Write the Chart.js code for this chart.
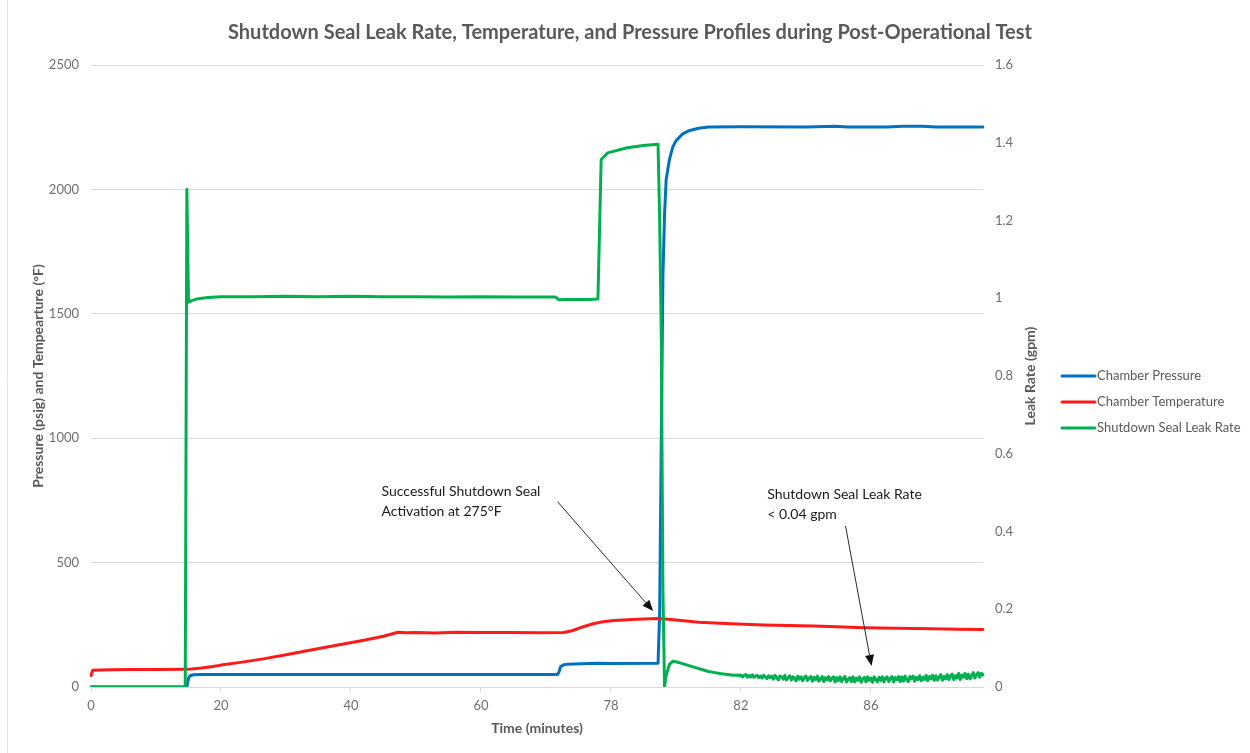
<!DOCTYPE html>
<html>
<head>
<meta charset="utf-8">
<script src="https://cdn.jsdelivr.net/npm/chart.js@4.4.1/dist/chart.umd.min.js"></script>
<style>
  html, body { margin: 0; padding: 0; background: #ffffff; }
  #wrap { width: 1250px; height: 753px; position: relative; }
</style>
</head>
<body>
<div id="wrap"><canvas id="chart" width="1250" height="753"></canvas></div>
<script>
// Logger clock: recorded time (minutes) at each labelled category, samples between labels
const tickTimes = [0, 20, 40, 60, 78, 82, 86];
const samplesPerTick = 80;
const endTime = 89.45;

// Series as [time (min), value] pairs
const chamberPressure = [ // psig
  [0, 0], [14.75, 0], [15, 35], [15.25, 45], [15.75, 49], [17, 50], [30, 50], [45, 50],
  [60, 50], [70.6, 50], [70.9, 60], [71.1, 82], [71.4, 89], [72, 91], [74, 93], [76.2, 95],
  [78, 94], [79.45, 95], [79.5, 300], [79.55, 1000], [79.6, 1650], [79.65, 1900], [79.7, 2040],
  [79.8, 2120], [79.9, 2170], [80.0, 2195], [80.2, 2222], [80.4, 2236], [80.7, 2246],
  [81.0, 2251], [82, 2252], [84, 2251], [84.9, 2254], [85.3, 2251], [86.5, 2251],
  [87, 2254], [87.6, 2254], [88, 2251], [89.45, 2251]
];

const chamberTemperature = [ // °F
  [0, 46], [0.25, 67], [3, 69], [6.5, 70], [10, 70], [14, 71], [15.5, 72], [17, 76],
  [18.5, 81], [20, 88], [23, 99], [26.5, 113], [30, 130], [34.2, 151], [38, 169], [42, 188],
  [45, 204], [47.2, 220], [48.5, 218], [50, 219], [53, 217], [56, 220], [60, 219], [64, 219],
  [68, 218], [71.5, 219], [72.7, 226], [73.8, 238], [75.6, 254], [76.2, 258], [77.2, 263],
  [78.1, 267], [78.8, 272], [79.45, 275], [79.85, 271], [80.7, 260], [81.7, 254],
  [82.7, 249], [84.26, 245], [85.8, 238], [86.8, 236], [87.87, 234], [88.7, 232], [89.45, 231]
];

const shutdownSealLeakRate = [ // gpm
  [0, 0], [14.5, 0], [14.75, 1.28], [15, 0.99], [15.5, 0.994], [16.5, 0.999], [18, 1.002],
  [20, 1.004], [25, 1.004], [30, 1.005], [35, 1.004], [40, 1.005], [45, 1.004], [50, 1.004],
  [55, 1.003], [60, 1.004], [65, 1.003], [70.3, 1.003], [70.8, 0.996], [71.5, 0.997],
  [73, 0.997], [75, 0.997], [76.2, 0.998], [76.65, 1.357], [77.55, 1.374], [78.52, 1.387],
  [79.02, 1.393], [79.45, 1.396], [79.5, 1.2], [79.55, 0.9], [79.6, 0.25], [79.65, 0.0],
  [79.7, 0.03], [79.8, 0.058], [79.9, 0.066], [80.0, 0.065], [80.2, 0.060], [80.4, 0.055],
  [80.6, 0.050], [80.8, 0.045], [81.0, 0.040], [81.2, 0.037], [81.4, 0.034], [81.6, 0.032],
  [81.7, 0.031], [81.8, 0.030], [81.9, 0.031], [81.95, 0.029]
];

// Leak-rate readings at every logged sample from 82 min to the end of the run (gpm)
const leakRateTailStart = 82.0;
const leakRateTail = [
  0.031, 0.026, 0.030, 0.032, 0.025, 0.030, 0.026, 0.031, 0.025, 0.028,
  0.030, 0.024, 0.028, 0.023, 0.030, 0.026, 0.022, 0.029, 0.024, 0.028,
  0.020, 0.030, 0.024, 0.018, 0.028, 0.026, 0.020, 0.030, 0.018, 0.024,
  0.029, 0.018, 0.026, 0.022, 0.016, 0.028, 0.020, 0.026, 0.016, 0.024,
  0.028, 0.017, 0.023, 0.027, 0.015, 0.025, 0.019, 0.028, 0.015, 0.021,
  0.027, 0.014, 0.024, 0.018, 0.027, 0.016, 0.022, 0.026, 0.013, 0.024,
  0.016, 0.026, 0.014, 0.022, 0.027, 0.013, 0.020, 0.024, 0.014, 0.026,
  0.013, 0.023, 0.017, 0.026, 0.012, 0.021, 0.025, 0.013, 0.026, 0.017,
  0.023, 0.012, 0.026, 0.019, 0.013, 0.025, 0.017, 0.026, 0.013, 0.023,
  0.026, 0.014, 0.022, 0.027, 0.013, 0.024, 0.018, 0.027, 0.014, 0.026,
  0.015, 0.028, 0.019, 0.014, 0.027, 0.021, 0.028, 0.015, 0.025, 0.019,
  0.029, 0.016, 0.025, 0.019, 0.030, 0.016, 0.027, 0.021, 0.030, 0.017,
  0.029, 0.018, 0.025, 0.032, 0.017, 0.027, 0.021, 0.032, 0.019, 0.029,
  0.033, 0.019, 0.029, 0.023, 0.035, 0.019, 0.031, 0.025, 0.035, 0.021,
  0.033, 0.021, 0.029, 0.037, 0.023, 0.031, 0.037, 0.025, 0.035, 0.031
];

const seriesNames = ['Chamber Pressure', 'Chamber Temperature', 'Shutdown Seal Leak Rate'];
const seriesColors = ['#0070C0', '#FF1A1A', '#00B050'];

// Annotation callouts, anchored in data units: [time, value]
const callouts = [
  { lines: ['Successful Shutdown Seal', 'Activation at 275°F'], axis: 'y',
    text: [44.7, 786], from: [70.6, 745], to: [79.3, 305] },
  { lines: ['Shutdown Seal Leak Rate', '< 0.04 gpm'], axis: 'y1',
    text: [82.81, 0.495], from: [85.22, 0.414], to: [86.02, 0.054] }
];

// ---- sample clock ----
const sampleTimes = [];
for (let i = 0; i < tickTimes.length; i++) {
  const start = tickTimes[i];
  const last = i === tickTimes.length - 1;
  const step = last ? (tickTimes[i] - tickTimes[i - 1]) / samplesPerTick
                    : (tickTimes[i + 1] - start) / samplesPerTick;
  for (let k = 0; k < samplesPerTick; k++) {
    const t = start + k * step;
    if (last && t > endTime + 1e-9) break;
    sampleTimes.push(+t.toFixed(3));
  }
}
const sampleLabels = sampleTimes.map(String);

function timeToIndex(t) {
  if (t <= sampleTimes[0]) return 0;
  for (let i = 0; i < sampleTimes.length - 1; i++) {
    const a = sampleTimes[i], b = sampleTimes[i + 1];
    if (t <= b) return i + (t - a) / (b - a);
  }
  return sampleTimes.length - 1;
}
const toPoints = s => s.map(([t, v]) => ({ x: sampleLabels[Math.round(timeToIndex(t))], y: v }));

// the dense tail sits on consecutive logger samples
const tailFirst = Math.round(timeToIndex(leakRateTailStart));
const leakRatePoints = toPoints(shutdownSealLeakRate)
  .concat(leakRateTail.map((v, i) => ({ x: sampleLabels[tailFirst + i], y: v })));

const FONT = 'Lato, "Open Sans", sans-serif';
const GRID = '#d9d9d9';
const TICK = '#6f6f6f';
const AXIS_TITLE = '#595959';

// ---- plugins: callouts, legend, right-hand axis title, frame ----
const calloutPlugin = {
  id: 'callouts',
  afterDatasetsDraw(chart) {
    const { ctx, scales } = chart;
    const px = t => scales.x.getPixelForValue(timeToIndex(t));
    ctx.save();
    for (const c of callouts) {
      const ys = scales[c.axis];
      ctx.font = '14px ' + FONT;
      ctx.fillStyle = '#1a1a1a';
      ctx.textAlign = 'left';
      ctx.textBaseline = 'middle';
      c.lines.forEach((ln, i) => ctx.fillText(ln, px(c.text[0]), ys.getPixelForValue(c.text[1]) + i * 20));
      const x1 = px(c.from[0]), y1 = ys.getPixelForValue(c.from[1]);
      const x2 = px(c.to[0]), y2 = ys.getPixelForValue(c.to[1]);
      const ang = Math.atan2(y2 - y1, x2 - x1);
      const head = 11, half = 4.5;
      const bx = x2 - head * Math.cos(ang), by = y2 - head * Math.sin(ang);
      ctx.strokeStyle = '#2b2b2b';
      ctx.lineWidth = 1;
      ctx.beginPath(); ctx.moveTo(x1, y1); ctx.lineTo(bx, by); ctx.stroke();
      ctx.fillStyle = '#111111';
      ctx.beginPath();
      ctx.moveTo(x2, y2);
      ctx.lineTo(bx + half * Math.sin(ang), by - half * Math.cos(ang));
      ctx.lineTo(bx - half * Math.sin(ang), by + half * Math.cos(ang));
      ctx.closePath(); ctx.fill();
    }
    ctx.restore();
  }
};

const sideLegendPlugin = {
  id: 'sideLegend',
  afterDraw(chart) {
    const { ctx, chartArea } = chart;
    const x0 = chartArea.right + 79;
    const cy = (chartArea.top + chartArea.bottom) / 2 + 26;
    ctx.save();
    ctx.font = '13px ' + FONT;
    ctx.textBaseline = 'middle';
    ctx.textAlign = 'left';
    chart.data.datasets.forEach((ds, i) => {
      const y = cy + (i - 1) * 26;
      ctx.strokeStyle = ds.borderColor;
      ctx.lineWidth = 3;
      ctx.lineCap = 'round';
      ctx.beginPath(); ctx.moveTo(x0, y); ctx.lineTo(x0 + 33, y); ctx.stroke();
      ctx.fillStyle = '#595959';
      ctx.fillText(ds.label, x0 + 35, y);
    });
    ctx.restore();
  }
};

const rightTitlePlugin = {
  id: 'rightTitle',
  afterDraw(chart) {
    const { ctx, chartArea } = chart;
    ctx.save();
    ctx.translate(chartArea.right + 47, (chartArea.top + chartArea.bottom) / 2);
    ctx.rotate(-Math.PI / 2);
    ctx.font = 'bold 14px ' + FONT;
    ctx.fillStyle = AXIS_TITLE;
    ctx.textAlign = 'center';
    ctx.textBaseline = 'middle';
    ctx.fillText('Leak Rate (gpm)', 0, 0);
    ctx.restore();
  }
};

const framePlugin = {
  id: 'frame',
  beforeDraw(chart) {
    const { ctx } = chart;
    ctx.save();
    ctx.fillStyle = '#ffffff';
    ctx.fillRect(0, 0, chart.width, chart.height);
    ctx.strokeStyle = '#e3e3e3';
    ctx.lineWidth = 1;
    ctx.beginPath(); ctx.moveTo(7.5, 0); ctx.lineTo(7.5, chart.height); ctx.stroke();
    ctx.restore();
  }
};

const lineStyle = (i) => ({
  label: seriesNames[i],
  borderColor: seriesColors[i],
  backgroundColor: seriesColors[i],
  borderWidth: 3,
  pointRadius: 0,
  pointHoverRadius: 0,
  tension: 0,
  borderJoinStyle: 'round',
  borderCapStyle: 'round',
  fill: false
});

new Chart(document.getElementById('chart'), {
  type: 'line',
  data: {
    labels: sampleLabels,
    datasets: [
      Object.assign(lineStyle(0), { data: toPoints(chamberPressure), yAxisID: 'y', order: 2 }),
      Object.assign(lineStyle(1), { data: toPoints(chamberTemperature), yAxisID: 'y', order: 1 }),
      Object.assign(lineStyle(2), { data: leakRatePoints, yAxisID: 'y1', order: 0 })
    ]
  },
  options: {
    responsive: false,
    animation: false,
    events: [],
    layout: { padding: { left: 10, right: 0, top: 0, bottom: 0 } },
    plugins: {
      legend: { display: false },
      tooltip: { enabled: false },
      title: {
        display: true,
        text: 'Shutdown Seal Leak Rate, Temperature, and Pressure Profiles during Post-Operational Test',
        color: '#595959',
        font: { family: FONT, size: 20, weight: 'bold' },
        padding: { top: 21, bottom: 20 }
      }
    },
    scales: {
      x: {
        type: 'category',
        offset: false,
        afterBuildTicks: (s) => { s.ticks = s.ticks.filter(t => t.value % samplesPerTick === 0); },
        afterFit: (s) => { s.height = 66; },
        ticks: {
          autoSkip: false, maxRotation: 0, minRotation: 0, padding: 6,
          color: TICK, font: { family: FONT, size: 13 },
          callback(v) { return this.getLabelForValue(v); }
        },
        grid: { display: true, drawOnChartArea: false, drawTicks: true, tickLength: 5, color: GRID },
        border: { display: true, color: GRID },
        title: {
          display: true, text: 'Time (minutes)', color: AXIS_TITLE,
          font: { family: FONT, size: 14, weight: 'bold' }, padding: { top: 0, bottom: 16 }
        }
      },
      y: {
        position: 'left',
        min: 0, max: 2500,
        afterFit: (s) => { s.width = 81; },
        ticks: {
          stepSize: 500, padding: 12, color: TICK, font: { family: FONT, size: 13 },
          callback: (v) => String(v)
        },
        grid: { color: GRID, drawTicks: false },
        border: { display: false },
        title: {
          display: true, text: 'Pressure (psig) and Tempearture (°F)', color: AXIS_TITLE,
          font: { family: FONT, size: 14, weight: 'bold' }, padding: { top: 20, bottom: 0 }
        }
      },
      y1: {
        position: 'right',
        min: 0, max: 1.6,
        afterFit: (s) => { s.width = 267; },
        ticks: {
          stepSize: 0.2, padding: 12, color: TICK, font: { family: FONT, size: 13 },
          callback: (v) => String(+v.toFixed(1))
        },
        grid: { display: false, drawTicks: false },
        border: { display: false }
      }
    }
  },
  plugins: [framePlugin, calloutPlugin, sideLegendPlugin, rightTitlePlugin]
});
</script>
</body>
</html>
